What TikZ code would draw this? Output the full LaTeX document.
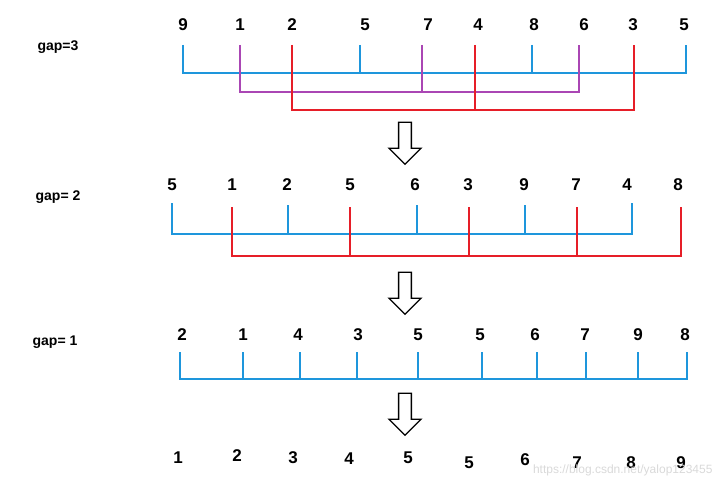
\documentclass[tikz,border=0pt]{standalone}
\usepackage{fontspec}
\setmainfont{Liberation Sans}
\usetikzlibrary{shapes.arrows}
\definecolor{bl}{RGB}{30,150,220}
\definecolor{rd}{RGB}{230,30,40}
\definecolor{pu}{RGB}{170,70,180}
\begin{document}
\begin{tikzpicture}[x=1pt,y=-1pt,
  num/.style={font=\bfseries\fontsize{17}{17}\selectfont},
  gl/.style={font=\bfseries\fontsize{14}{14}\selectfont},
  ln/.style={line width=2.2pt},
  dar/.style={draw,line width=1.3pt,single arrow,shape border rotate=270,minimum height=42pt,minimum width=32pt,single arrow head extend=4pt,inner sep=2pt}]
\useasboundingbox (0,0) rectangle (725,489);
\node[gl] (g3) at (58,47) {gap=3};
\node[gl] (g2) at (58,197) {gap= 2};
\node[gl] (g1) at (55,342) {gap= 1};
% row 1
\foreach \x/\v/\i in {183/9/1,240/1/2,292/2/3,365/5/4,428/7/5,478/4/6,534/8/7,584/6/8,633/3/9,684/5/10}
  \node[num] (a\i) at (\x,25) {\v};
\draw[ln,bl] (183,45) -- (183,73) -- (686,73) -- (686,45);
\draw[ln,bl] (360,45) -- (360,73) (532,45) -- (532,73);
\draw[ln,pu] (240,45) -- (240,92) -- (579,92) -- (579,45) (422,45) -- (422,92);
\draw[ln,rd] (292,45) -- (292,110) -- (634,110) -- (634,45) (475,45) -- (475,110);
\node[dar] (ar1) at (405,140) {};
% row 2
\foreach \x/\v/\i in {172/5/1,232/1/2,287/2/3,350/5/4,415/6/5,468/3/6,524/9/7,576/7/8,627/4/9,678/8/10}
  \node[num] (b\i) at (\x,185) {\v};
\draw[ln,bl] (172,203) -- (172,234) -- (632,234) -- (632,203);
\foreach \x in {288,417,525} \draw[ln,bl] (\x,205) -- (\x,234);
\draw[ln,rd] (232,207) -- (232,256) -- (681,256) -- (681,207);
\foreach \x in {350,469,577} \draw[ln,rd] (\x,207) -- (\x,256);
\node[dar] (ar2) at (405,290) {};
% row 3
\foreach \x/\v/\i in {182/2/1,243/1/2,298/4/3,358/3/4,418/5/5,480/5/6,535/6/7,585/7/8,638/9/9,685/8/10}
  \node[num] (c\i) at (\x,335) {\v};
\draw[ln,bl] (180,352) -- (180,379) -- (687,379) -- (687,352);
\foreach \x in {243,300,357,418,482,537,586,638} \draw[ln,bl] (\x,352) -- (\x,379);
\node[dar] (ar3) at (405,411) {};
% row 4
\foreach \x/\y/\v/\i in {178/458/1/1,237/456/2/2,293/458/3/3,349/459/4/4,408/458/5/5,469/463/5/6,525/460/6/7,577/463/7/8,631/463/8/9,681/463/9/10}
  \node[num] (d\i) at (\x,\y) {\v};
\node[text=black!15,font=\fontsize{12}{12}\selectfont,anchor=east] (wm) at (716,470) {https://blog.csdn.net/yalop123455};
\end{tikzpicture}
\end{document}
